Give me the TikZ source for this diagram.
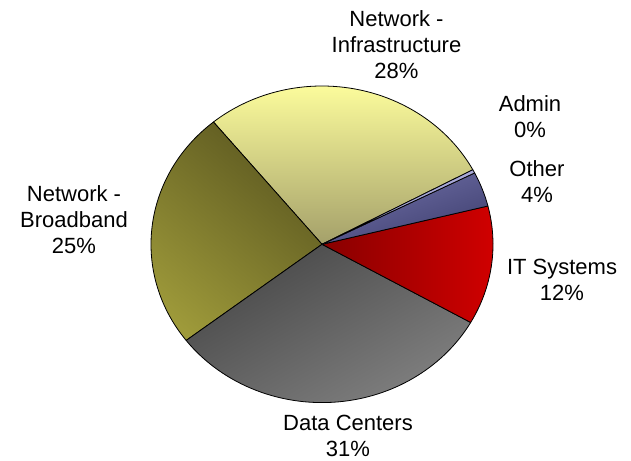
\documentclass[tikz,border=0pt]{standalone}
\usepackage{fontspec}
\setmainfont{Liberation Sans}
\definecolor{infratop}{HTML}{FCFC9C}
\definecolor{infrabot}{HTML}{A4A06A}
\definecolor{bbdark}{HTML}{5C5820}
\definecolor{bblight}{HTML}{9E9A3A}
\definecolor{dcdark}{HTML}{484848}
\definecolor{dclight}{HTML}{808080}
\definecolor{itdark}{HTML}{880000}
\definecolor{itlight}{HTML}{D20000}
\definecolor{otherlight}{HTML}{7070A8}
\definecolor{otherdark}{HTML}{404070}
\definecolor{adminfill}{HTML}{A8A8D8}

\begin{document}
\begin{tikzpicture}[x=1pt, y=-1pt, slice/.style={draw=black, line width=0.8pt, line join=round},
    label node/.style={align=center, inner sep=0pt, font=\fontsize{22}{26}\selectfont}]

      \useasboundingbox (0,0) rectangle (631,460);
      \coordinate (c) at (322,244.3);

      % slices, angles measured counterclockwise from the right
      \shadedraw[slice, top color=infratop, bottom color=infrabot]
        (c) -- ++(28.1:171pt and 158.3pt) arc[start angle=28.1, end angle=129.4, x radius=171pt, y radius=158.3pt] -- cycle;
      \shadedraw[slice, top color=bbdark, bottom color=bblight, shading angle=-40]
        (c) -- ++(129.4:171pt and 158.3pt) arc[start angle=129.4, end angle=217.4, x radius=171pt, y radius=158.3pt] -- cycle;
      \shadedraw[slice, top color=dcdark, bottom color=dclight, shading angle=30]
        (c) -- ++(217.4:171pt and 158.3pt) arc[start angle=217.4, end angle=330.4, x radius=171pt, y radius=158.3pt] -- cycle;
      \shadedraw[slice, left color=itdark, right color=itlight]
        (c) -- ++(-29.6:171pt and 158.3pt) arc[start angle=-29.6, end angle=14, x radius=171pt, y radius=158.3pt] -- cycle;
      \shadedraw[slice, top color=otherlight, bottom color=otherdark, shading angle=20]
        (c) -- ++(14:171pt and 158.3pt) arc[start angle=14, end angle=26.8, x radius=171pt, y radius=158.3pt] -- cycle;
      \filldraw[slice, fill=adminfill]
        (c) -- ++(26.8:171pt and 158.3pt) arc[start angle=26.8, end angle=28.1, x radius=171pt, y radius=158.3pt] -- cycle;

      \node[label node] (infra) at (396.5,45) {Network -\\Infrastructure\\28\%};
      \node[label node] (admin) at (530,117) {Admin\\0\%};
      \node[label node] (other) at (537,182) {Other\\4\%};
      \node[label node] (its) at (562,280) {IT Systems\\12\%};
      \node[label node] (dc) at (348,436) {Data Centers\\31\%};
      \node[label node] (bb) at (74,220) {Network -\\Broadband\\25\%};

    \end{tikzpicture}
\end{document}
